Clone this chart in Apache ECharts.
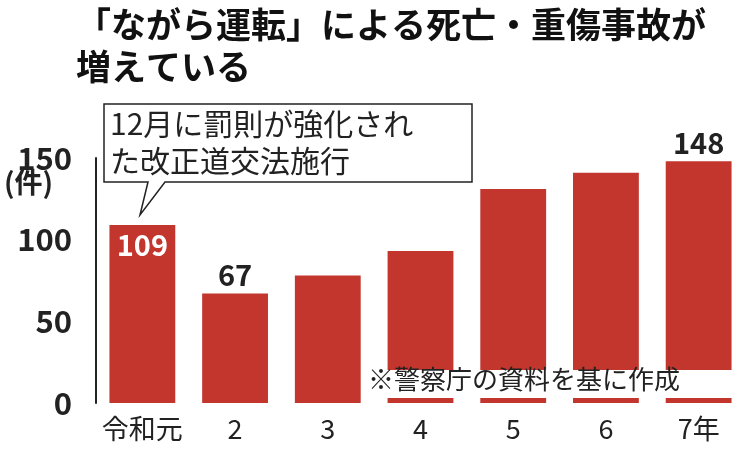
<!DOCTYPE html>
<html><head><meta charset="utf-8">
<script src="https://cdn.jsdelivr.net/npm/echarts@6/dist/echarts.min.js"></script>
<style>html,body{margin:0;padding:0;background:#fff}#c{width:750px;height:453px}</style>
</head><body><div id="c"></div>
<script>
const categories = ['令和元','2','3','4','5','6','7年'];
const values = [109, 67, 78, 93, 131, 141, 148];
const yTicks = [0, 50, 100, 150];
const labelShown = [true, true, false, false, false, false, true];
const F = '"Noto Sans CJK JP", sans-serif';
const chart = echarts.init(document.getElementById('c'));
chart.setOption({
  animation:false,
  grid:{left:96,right:5,top:158,bottom:50},
  xAxis:{type:'category',data:categories,axisLine:{show:false},axisTick:{show:false},
    axisLabel:{interval:0,fontFamily:F,fontSize:27,color:'#222',margin:12}},
  yAxis:{type:'value',min:0,max:150,interval:50,splitLine:{show:false},
    axisLine:{show:true,lineStyle:{color:'#222',width:2}},axisTick:{show:false},
    axisLabel:{fontFamily:F,fontSize:31,fontWeight:'bold',color:'#222',margin:24,
      formatter:v=>yTicks.includes(v)?String(v):''}},
  series:[{type:'bar',barWidth:'71%',itemStyle:{color:'#c2362e'},
    data:values.map((v,i)=>({value:v,label:{show:labelShown[i],
      position:i===0?'insideTop':'top',color:i===0?'#fff':'#222',distance:i===0?6:4}})),
    label:{fontFamily:F,fontSize:29,fontWeight:'bold'}}],
  graphic:[
    {type:'text',left:76,top:4,style:{text:'「ながら運転」による死亡・重傷事故が\n増えている',fontFamily:F,fontSize:35,fontWeight:'bold',fill:'#111',lineHeight:42}},
    {type:'text',left:4,top:168,style:{text:'(件)',fontFamily:F,fontSize:28,fontWeight:'bold',fill:'#222'}},
    {type:'polygon',shape:{points:[[104,104],[472,104],[472,182],[165,182],[140,215],[148,182],[104,182]]},
      style:{fill:'#fff',stroke:'#222',lineWidth:1.5},z:10},
    {type:'text',left:110,top:105,z:11,style:{text:'12月に罰則が強化され\nた改正道交法施行',fontFamily:F,fontSize:30,fill:'#222',lineHeight:37}},
    {type:'rect',shape:{x:366,y:370,width:378,height:28},style:{fill:'#fff'},z:10},
    {type:'text',left:368,top:366,z:11,style:{text:'※警察庁の資料を基に作成',fontFamily:F,fontSize:26,fill:'#222'}}
  ]
});
</script></body></html>
